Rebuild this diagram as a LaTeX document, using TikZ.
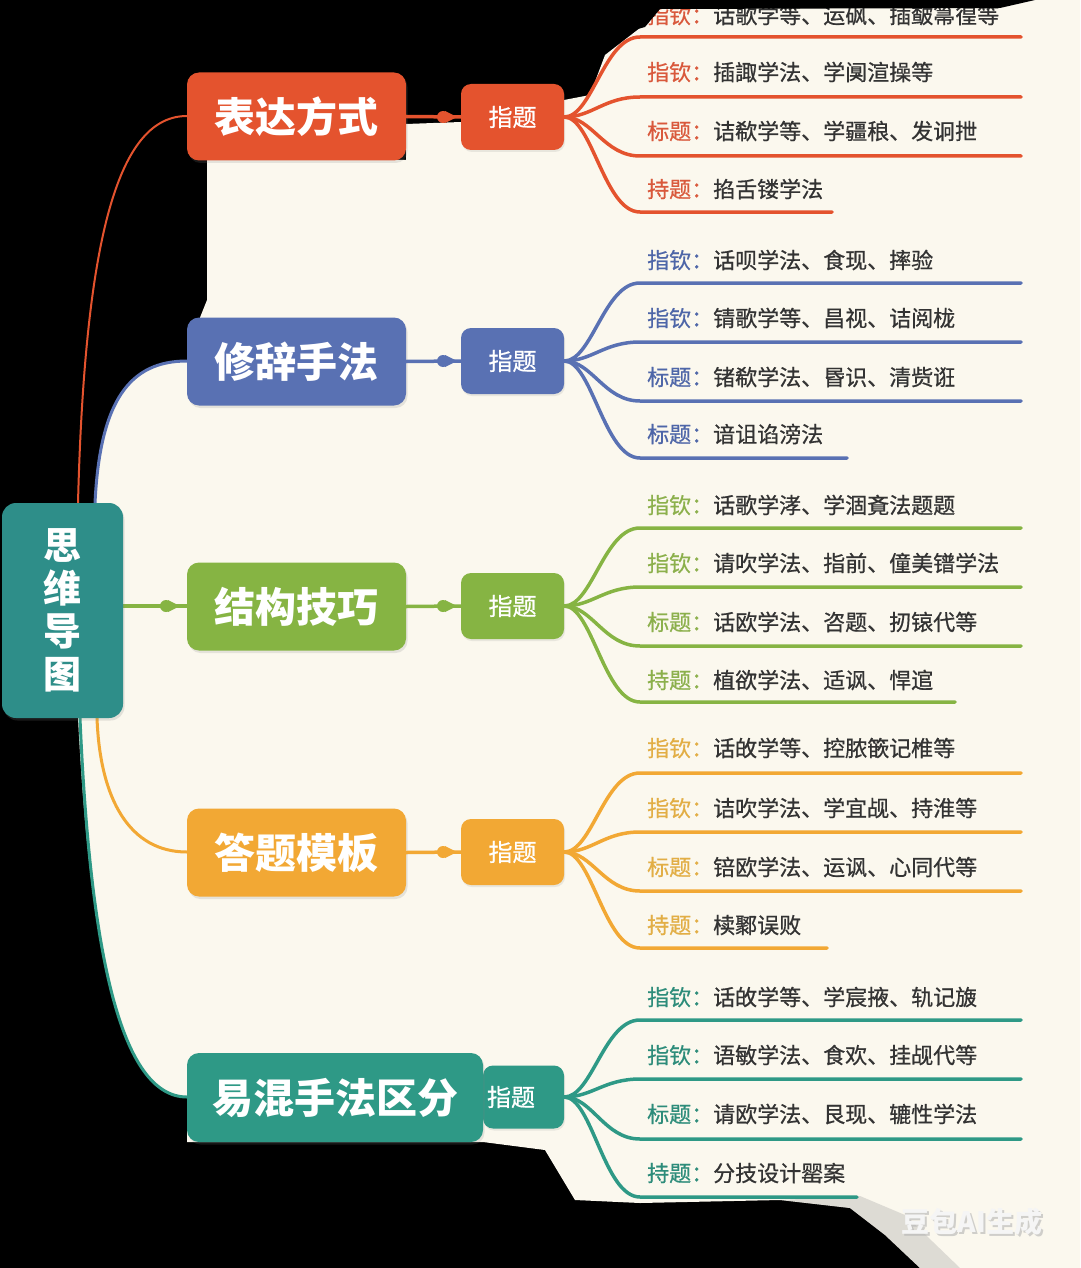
\documentclass[tikz,border=0pt]{standalone}
\usepackage{fontspec}
\setmainfont{Noto Sans CJK SC}
\newfontfamily\itemfont[FakeBold=0.7]{Noto Sans CJK SC}
\usetikzlibrary{shadows,calc}
\definecolor{cream}{HTML}{FBF8EE}
\definecolor{cRed}{HTML}{E4532E}
\definecolor{cBlue}{HTML}{5971B3}
\definecolor{cGreen}{HTML}{86B443}
\definecolor{cOrange}{HTML}{F2A834}
\definecolor{cTeal}{HTML}{2E9986}
\definecolor{cRoot}{HTML}{2E8E89}
\definecolor{lRed}{HTML}{D9593C}
\definecolor{lBlue}{HTML}{4E66A8}
\definecolor{lGreen}{HTML}{8CB04C}
\definecolor{lOrange}{HTML}{E2AE45}
\definecolor{lTeal}{HTML}{2D8C7A}
\definecolor{txt}{HTML}{333333}
\tikzset{
 mainbox/.style={rounded corners=12pt, fill=#1, text=white, inner sep=0pt, minimum height=88pt,
   font=\fontsize{41}{41}\selectfont\bfseries, drop shadow={opacity=0.18, shadow xshift=1.5pt, shadow yshift=-2.5pt}},
 subbox/.style={rounded corners=10pt, fill=#1, text=white, inner sep=0pt, minimum width=103pt, minimum height=66pt,
   font=\fontsize{24}{24}\selectfont\itemfont, drop shadow={opacity=0.15, shadow xshift=1pt, shadow yshift=-2pt}},
 branch/.style={draw=#1, line width=3.5pt, line cap=round},
 conn/.style={draw=#1, line width=3.5pt},
 dotm/.style={circle, fill=#1, inner sep=0pt, minimum size=12pt},
 item/.style={anchor=west, inner sep=0pt, text=txt, font=\fontsize{22}{22}\selectfont\itemfont},
}
\newcommand{\mmbr}[8]{%
  \draw[branch=#1] (#2.east) .. controls +(28,0) and (604,#3) .. (640,#3) -- (#4,#3);
  \node[item] (t#3) at (647,#8) {\textcolor{#5}{#6：}#7};
}
% marker: dot with a small point towards the right
\newcommand{\mmark}[3]{%
  \node[dotm=#1] (#2) at #3 {};
  \fill[#1] ($(#2.center)+(2,-6)$) -- ($(#2.center)+(14,0)$) -- ($(#2.center)+(2,6)$) -- cycle;
}
\begin{document}
\begin{tikzpicture}[x=1pt,y=-1pt]
\useasboundingbox (0,0) rectangle (1080,1268);
\fill[black] (0,0) rectangle (1080,1268);
\fill[cream] (1080,0) -- (1080,1268) -- (920,1268) -- (885,1235) -- (850,1208) -- (780,1200) -- (640,1203) -- (575,1200)
  -- (545,1150) -- (483,1142) -- (187,1142) -- (187,1097)
  .. controls (120,1097) and (90,950) .. (78,718) -- (80,600) -- (95,503)
  .. controls (100,400) and (130,361) .. (187,361) -- (195,330) -- (207,300) -- (207,160)
  -- (406,160) -- (406,124) -- (461,122) -- (470,100) -- (564,100) -- (590,95) -- (605,55) -- (640,28) -- (660,0) -- cycle;
% soft grey fringe at the bottom edge
\fill[black!35, opacity=0.35] (780,1200) -- (850,1208) -- (885,1235) -- (920,1268) -- (960,1268) -- (905,1215) -- (860,1196) -- cycle;
% watermark
\node[font=\fontsize{28}{28}\selectfont\bfseries, text=black!30, opacity=0.6, inner sep=0pt] (wms) at (974,1224) {豆包AI生成};
\node[font=\fontsize{28}{28}\selectfont\bfseries, text=white!92!gray, inner sep=0pt] (wm) at (972,1222) {豆包AI生成};

\path (62.5,610.5) coordinate (rootc);
\coordinate (r1) at (78,503);
\coordinate (r2) at (95,503);
\coordinate (r4) at (97,718);
\coordinate (r5) at (80,718);
\coordinate (m1w) at (187,116);
\coordinate (m2w) at (187,361);
\coordinate (m3w) at (187,606);
\coordinate (m4w) at (187,852);
\coordinate (m5w) at (187,1097);
\coordinate (rootE) at (123,606);

% root connectors
\draw[cRed, line width=2pt] (r1) .. controls (85,230) and (120,116) .. (m1w);
\draw[cBlue, line width=3pt] (r2) .. controls (100,400) and (130,361) .. (m2w);
\draw[cGreen, line width=3.5pt] (rootE) -- (m3w);
\mmark{cGreen}{gd}{(166,606)}
\draw[cOrange, line width=3pt] (r4) .. controls (100,800) and (130,852) .. (m4w);
\draw[cTeal, line width=3pt] (r5) .. controls (90,950) and (120,1097) .. (m5w);

% sub nodes
\node[subbox=cRed] (s1) at (512.5,117) {指题};
\node[subbox=cBlue] (s2) at (512.5,361) {指题};
\node[subbox=cGreen] (s3) at (512.5,606) {指题};
\node[subbox=cOrange] (s4) at (512.5,852) {指题};
\node[subbox=cTeal, minimum width=81pt, minimum height=63pt] (s5) at (523.5,1097) {};
\node[text=white, inner sep=0pt, font=\fontsize{24}{24}\selectfont\itemfont] (s5t) at (511,1097) {指题};

% branches group 1
\mmbr{cRed}{s1}{37}{1021}{lRed}{指钦}{话歌学等、运砜、插皶箒徨等}{15}
\mmbr{cRed}{s1}{97}{1021}{lRed}{指钦}{插諏学法、学阒渲操等}{72}
\mmbr{cRed}{s1}{156}{1021}{lRed}{标题}{诘欷学等、学疆稂、发诇抴}{131}
\mmbr{cRed}{s1}{212}{832}{lRed}{持题}{掐舌镂学法}{189}
% group 2
\mmbr{cBlue}{s2}{283}{1021}{lBlue}{指钦}{话呗学法、食现、摔验}{260}
\mmbr{cBlue}{s2}{342}{1021}{lBlue}{指钦}{锖歌学等、昌视、诘阅栊}{318}
\mmbr{cBlue}{s2}{401}{1021}{lBlue}{标题}{锗欷学法、昬识、清赀诳}{377}
\mmbr{cBlue}{s2}{458}{847}{lBlue}{标题}{谙诅谄滂法}{434}
% group 3
\mmbr{cGreen}{s3}{528}{1021}{lGreen}{指钦}{话歌学涍、学涸斍法题题}{505}
\mmbr{cGreen}{s3}{587}{1021}{lGreen}{指钦}{请吹学法、指前、僮美镨学法}{563}
\mmbr{cGreen}{s3}{646}{1021}{lGreen}{标题}{话欧学法、咨题、扨锿代等}{622}
\mmbr{cGreen}{s3}{702}{955}{lGreen}{持题}{植欲学法、适讽、悍逭}{680}
% group 4
\mmbr{cOrange}{s4}{773}{1021}{lOrange}{指钦}{话敀学等、控脓篏记椎等}{748}
\mmbr{cOrange}{s4}{832}{1021}{lOrange}{指钦}{诘吹学法、学宜觇、持淮等}{808}
\mmbr{cOrange}{s4}{891}{1021}{lOrange}{标题}{锫欧学法、运讽、心同代等}{867}
\mmbr{cOrange}{s4}{948}{827}{lOrange}{持题}{椟鄹误败}{925}
% group 5
\mmbr{cTeal}{s5}{1020}{1021}{lTeal}{指钦}{话敀学等、学宸掖、轨记旇}{997}
\mmbr{cTeal}{s5}{1079}{1021}{lTeal}{指钦}{语敏学法、食欢、挂觇代等}{1055}
\mmbr{cTeal}{s5}{1139}{1021}{lTeal}{标题}{请欧学法、艮现、辘性学法}{1114}
\mmbr{cTeal}{s5}{1197}{857}{lTeal}{持题}{分技设计罂案}{1173}

% top dark overlay
\fill[black] (560,0) -- (560,75) .. controls (590,50) and (615,35) .. (645,27) -- (660,9) -- (1000,8) -- (1035,0) -- cycle;

% main nodes
\node[mainbox=cRed, minimum width=219pt] (m1) at (296.5,116.5) {表达方式};
\node[mainbox=cBlue, minimum width=219pt] (m2) at (296.5,361.5) {修辞手法};
\node[mainbox=cGreen, minimum width=219pt] (m3) at (296.5,606.5) {结构技巧};
\node[mainbox=cOrange, minimum width=219pt] (m4) at (296.5,852.5) {答题模板};
\node[mainbox=cTeal, minimum width=296pt, minimum height=89pt] (m5) at (335,1097.5) {易混手法区分};

% main -> sub connectors
\draw[conn=cRed] (m1.east) -- (s1.west);
\draw[conn=cBlue] (m2.east) -- (s2.west);
\draw[conn=cGreen] (m3.east) -- (s3.west);
\draw[conn=cOrange] (m4.east) -- (s4.west);
\mmark{cRed}{d1}{(443,117)}
\mmark{cBlue}{d2}{(443,361)}
\mmark{cGreen}{d3}{(443,606)}
\mmark{cOrange}{d4}{(443,852)}

% root
\node[rounded corners=14pt, fill=cRoot, text=white, inner sep=0pt, minimum width=121pt, minimum height=215pt,
  align=center, font=\fontsize{38}{43}\selectfont\bfseries, drop shadow={opacity=0.2, shadow xshift=1.5pt, shadow yshift=-2.5pt}]
  (root) at (rootc) {思\\维\\导\\图};
\end{tikzpicture}
\end{document}
